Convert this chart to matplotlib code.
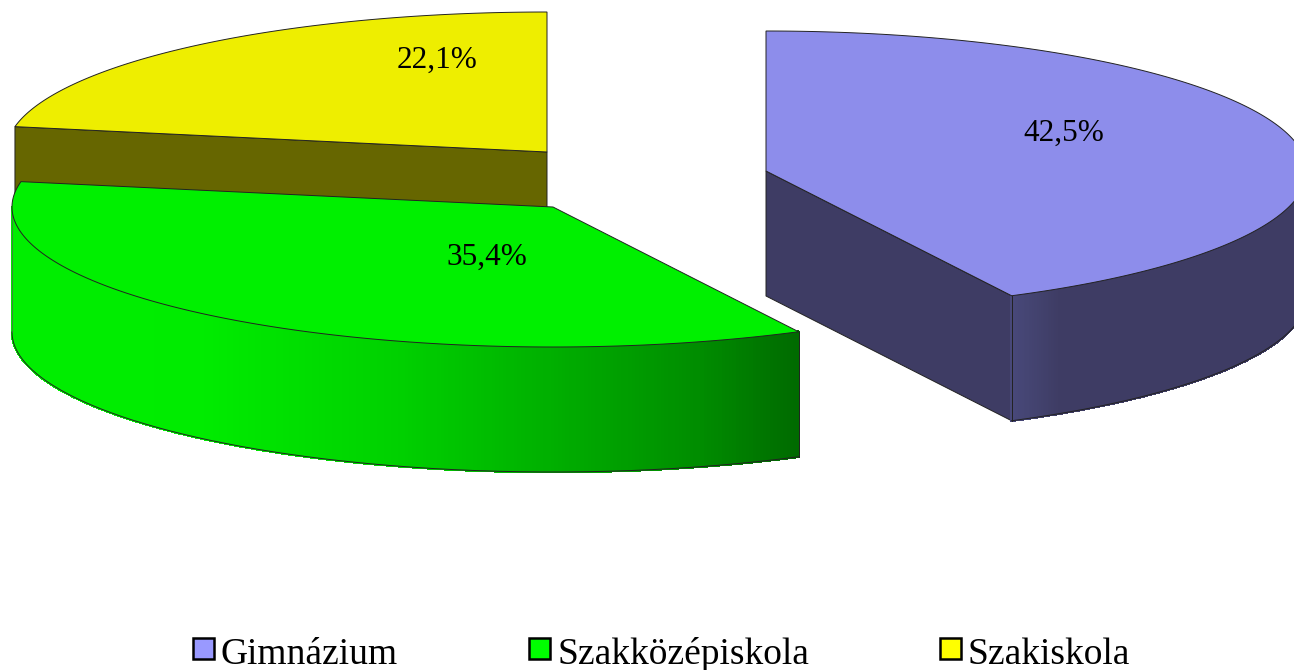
import numpy as np
import matplotlib
matplotlib.use("Agg")
import matplotlib.pyplot as plt
from matplotlib.patches import Polygon, Rectangle
from matplotlib.collections import PolyCollection

categories = ["Gimnázium", "Szakközépiskola", "Szakiskola"]
shares = [42.5, 35.4, 22.1]
labels = ["42,5%", "35,4%", "22,1%"]

A, B, DEPTH = 541, 140, 125
apex = {"Gimnázium": (766, 171), "Szakközépiskola": (553, 207), "Szakiskola": (547, 152)}
top_col = {"Gimnázium": "#8D8DEB", "Szakközépiskola": "#00F000", "Szakiskola": "#EEEE00"}
wall_col = {"Gimnázium": "#3E3C64", "Szakiskola": "#666600"}
legend_col = {"Gimnázium": "#9999FF", "Szakközépiskola": "#00FF00", "Szakiskola": "#FFFF00"}
label_pos = {"Gimnázium": (1064, 133), "Szakközépiskola": (487, 257), "Szakiskola": (437, 60)}
legend_x = {"Gimnázium": 193, "Szakközépiskola": 529, "Szakiskola": 940}
grad = {
    "Gimnázium": ([1010, 1030, 1058], [(72, 72, 122), (68, 68, 113), (62, 60, 100)]),
    "Szakközépiskola": ([12, 200, 400, 550, 700, 800],
                        [(0, 238, 0), (0, 236, 0), (0, 208, 0), (0, 175, 0), (0, 140, 0), (0, 105, 0)]),
}
EDGE = "#222222"
LW = 0.7

plt.rcParams["font.family"] = ["Liberation Serif", "DejaVu Serif"]
fig = plt.figure(figsize=(12.94, 6.70), dpi=100, facecolor="white")
ax = fig.add_axes([0, 0, 1, 1])
ax.set_xlim(0, 1294)
ax.set_ylim(670, 0)
ax.axis("off")


def arc(c, t0, t1, n=300):
    t = np.radians(np.linspace(t0, t1, n))
    return np.column_stack([c[0] + A * np.sin(t), c[1] - B * np.cos(t)])


def gradient_side(pts, stops, z):
    verts, cols = [], []
    for p, q in zip(pts[:-1], pts[1:]):
        verts.append([p, q, (q[0], q[1] + DEPTH), (p[0], p[1] + DEPTH)])
        xm = (p[0] + q[0]) / 2
        cols.append([np.interp(xm, stops[0], [s[i] for s in stops[1]]) / 255 for i in range(3)])
    ax.add_collection(PolyCollection(verts, facecolors=cols, edgecolors=cols,
                                     linewidths=1.2, antialiaseds=False, zorder=z))


edges = np.cumsum([0] + shares) / 100 * 360
span = dict(zip(categories, zip(edges[:-1], edges[1:])))

# Yellow slice (back), then green, then blue
for cat, z in (("Szakiskola", 1), ("Szakközépiskola", 2), ("Gimnázium", 3)):
    c = apex[cat]
    t0, t1 = span[cat]
    if cat == "Gimnázium":
        e = arc(c, t0, t1)[-1]
        ax.add_patch(Polygon([c, e, (e[0], e[1] + DEPTH), (c[0], c[1] + DEPTH)],
                             fc=wall_col[cat], ec=EDGE, lw=LW, zorder=z))
        pts = arc(c, 90, t1)
        gradient_side(pts, grad[cat], z)
    elif cat == "Szakiskola":
        s = arc(c, t0, t1)[0]
        ax.add_patch(Polygon([s, c, (c[0], c[1] + DEPTH), (s[0], s[1] + DEPTH)],
                             fc=wall_col[cat], ec=EDGE, lw=LW, zorder=z))
        pts = None
    else:
        pts = arc(c, t0, 270)
        gradient_side(pts, grad[cat], z)
    if pts is not None:
        ax.plot(pts[:, 0], pts[:, 1] + DEPTH, color=EDGE, lw=LW, zorder=z + 0.1)
        front_end = pts[0] if cat == "Szakközépiskola" else pts[-1]
        ax.plot([front_end[0]] * 2, [front_end[1], front_end[1] + DEPTH], color=EDGE, lw=LW, zorder=z + 0.1)
        if cat == "Szakközépiskola":
            ax.plot([pts[-1, 0]] * 2, [pts[-1, 1], pts[-1, 1] + DEPTH], color="#555555", lw=0.5, zorder=z + 0.1)
    top = np.vstack([[c], arc(c, t0, t1)])
    ax.add_patch(Polygon(top, closed=True, fc=top_col[cat], ec=EDGE, lw=LW, zorder=z + 0.2))

for cat, lab in zip(categories, labels):
    x, y = label_pos[cat]
    ax.text(x, y, lab, ha="center", va="center", fontsize=22.5, color="black", zorder=5)

for cat in categories:
    x = legend_x[cat]
    ax.add_patch(Rectangle((x, 638), 21, 21, fc=legend_col[cat], ec="black", lw=1.8, zorder=5))
    ax.text(x + 28, 664, cat, ha="left", va="baseline", fontsize=27, color="black", zorder=5)

fig.savefig("out.png", dpi=100)
